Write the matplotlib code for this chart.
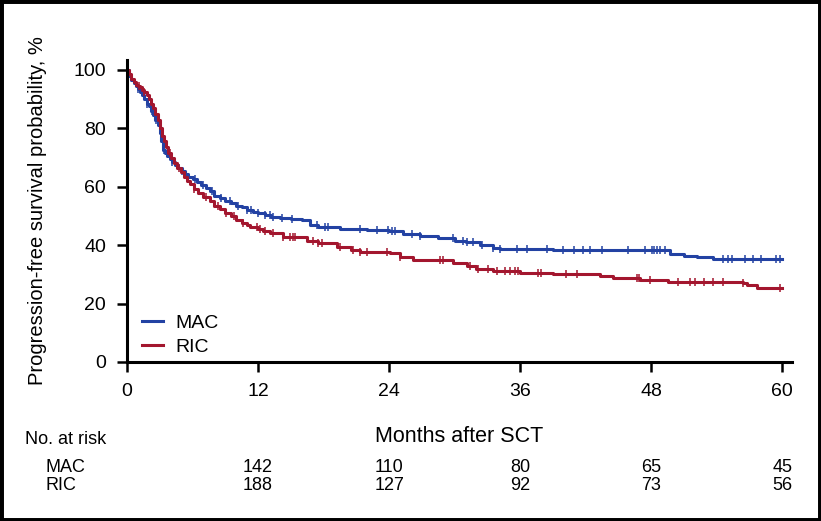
import numpy as np
import matplotlib
matplotlib.use("Agg")
import matplotlib.pyplot as plt
import matplotlib.transforms as mtransforms
from matplotlib.patches import Rectangle

plt.rcParams['font.family'] = ['Liberation Sans', 'DejaVu Sans']

# Kaplan-Meier step points (months, % PFS)
mac_time = [0, 0.2, 0.4, 0.6, 0.8, 1.0, 1.2, 1.4, 1.6, 1.8, 2.0, 2.2, 2.4, 2.6,
            2.8, 3.0, 3.15, 3.3, 3.5, 3.7, 3.9, 4.1, 4.4, 4.7, 5.0, 5.3, 5.6,
            6.0, 6.4, 6.8, 7.2, 7.6, 8.0, 8.5, 9.0, 9.5, 10.0, 10.5, 11.0,
            11.5, 12.0, 12.6, 13.2, 14.0, 15.0, 16.0, 16.8, 17.5, 19.5,
            22.0, 24.0, 25.3, 26.8, 28.5, 30.0, 31.0, 32.3, 33.5, 34.2, 39.0,
            45.0, 49.7, 51.0, 52.2, 53.7]
mac_surv = [100, 98, 96.5, 95.5, 94.5, 93.5, 92.5, 91.5, 90, 88.5, 87.5, 86,
            84.5, 83, 81, 78.5, 75.5, 72.5, 71.5, 70.5, 69.5, 68.5, 67.5, 66.5,
            65.5, 64.5, 63.5, 62.5, 61.5, 60.5, 59.5, 58.5, 57, 56, 55, 54.5,
            53.5, 53, 52, 51.5, 51, 50.5, 49.8, 49.3, 49, 48.6, 47, 46.3, 45.5,
            45.2, 45, 43.8, 43.3, 42.5, 41.5, 41, 40, 39.2, 38.8, 38.5,
            38.2, 37, 36.2, 35.8, 35.2]
ric_time = [0, 0.2, 0.4, 0.6, 0.8, 1.0, 1.2, 1.4, 1.6, 1.8, 2.0, 2.2, 2.4, 2.6,
            2.8, 3.0, 3.2, 3.4, 3.6, 3.8, 4.0, 4.3, 4.6, 4.9, 5.2, 5.5, 5.8,
            6.1, 6.5, 7.0, 7.6, 8.0, 8.5, 9.0, 9.5, 10.0, 10.5, 11.0, 11.3,
            12.0, 12.5, 13.1, 13.5, 14.3, 16.5, 17.5, 19.2, 20.5,
            21.3, 24.1, 25.0, 26.2, 29.9, 31.1, 32.0, 33.5, 36.0, 39.0, 43.3,
            44.5, 47.0, 49.5, 56.4, 56.8, 57.7]
ric_surv = [100, 98.5, 97, 96, 95, 94.5, 94, 93, 92.5, 91.5, 90, 88.5, 87, 85,
            83, 80, 77.5, 75.5, 73.5, 71.5, 70, 68, 66.5, 65, 63.5, 62, 60.8,
            59.3, 58, 56.5, 55, 53.5, 52.3, 51, 50, 48.7, 47.7, 46.9, 46.3,
            45.5, 45, 44.2, 44, 42.8, 41.5, 40.8, 39.5, 38.5,
            37.7, 37.3, 36, 35, 34, 33, 32, 31, 30.5, 30, 29.3,
            28.6, 28.2, 27.4, 27, 26.2, 25.3]

# censoring times (months)
mac_cens = [1.0, 1.8, 2.3, 2.7, 3.4, 4.1, 5.0, 5.6, 6.2, 7.0, 7.8, 8.6, 9.4,
            10.2, 11.0, 11.4, 12.0, 12.6, 13.1, 13.4, 14.2, 15.1, 17.4, 18.1,
            18.4, 21.3, 22.9, 23.9, 24.3, 24.5, 26.1, 26.8, 29.9, 30.8, 31.1,
            31.7, 32.5, 33.5, 34.2, 35.7, 36.6, 38.5, 39.9, 40.9, 41.8, 42.4,
            43.5, 45.9, 47.4, 48.1, 48.3, 48.5, 48.8, 49.3, 54.6, 55.0, 55.4,
            56.6, 57.3, 58.1, 59.4, 59.8]
ric_cens = [1.1, 1.6, 3.9, 4.8, 6.1, 7.2, 8.3, 9.1, 9.8, 10.6, 11.9, 12.2,
            12.6, 13.4, 14.3, 14.9, 15.2, 15.4, 17.0, 17.5, 17.9, 19.5, 20.7,
            21.3, 22.0, 23.8, 25.0, 28.7, 28.9, 31.4, 32.1, 33.1, 33.9, 34.6,
            35.1, 35.5, 35.8, 37.6, 37.9, 40.2, 41.2, 46.7, 46.9, 47.9, 50.5,
            51.6, 52.0, 52.8, 53.7, 54.6, 56.4, 59.8]

groups = ["MAC", "RIC"]
colors = ["#2342a3", "#a3162e"]
end_time = 60

xticks = [0, 12, 24, 36, 48, 60]
yticks = [0, 20, 40, 60, 80, 100]
risk_times = [12, 24, 36, 48, 60]
mac_risk = [142, 110, 80, 65, 45]
ric_risk = [188, 127, 92, 73, 56]


def km_value(times, surv, t):
    idx = np.searchsorted(times, t, side="right") - 1
    return np.asarray(surv)[idx]


fig = plt.figure(figsize=(8.21, 5.21), dpi=100)
ax = fig.add_axes([127 / 821, 1 - 362 / 521, 665 / 821, 302 / 521])

series = [(mac_time, mac_surv, mac_cens), (ric_time, ric_surv, ric_cens)]
for name, color, (t, s, c) in zip(groups, colors, series):
    tt = list(t) + [end_time]
    ss = list(s) + [s[-1]]
    ax.step(tt, ss, where="post", color=color, lw=2.2, label=name)
    ax.plot(c, km_value(t, s, c), ls="none", marker="|", color=color,
            ms=5.5, mew=1.1)

ax.set_xlim(0, 60.9)
ax.set_ylim(0, 103.4)
ax.set_xticks(xticks)
ax.set_yticks(yticks)
for side in ["top", "right"]:
    ax.spines[side].set_visible(False)
for side in ["left", "bottom"]:
    ax.spines[side].set_linewidth(2.2)
ax.tick_params(direction="out", length=7, width=1.8, labelsize=14, pad=8)

ax.set_xlabel("Months after SCT", fontsize=15.5, va="center")
ax.xaxis.set_label_coords(0.5, -0.248)
ax.set_ylabel("Progression-free survival probability, %", fontsize=14.5,
              va="center")
ax.yaxis.set_label_coords(-0.134, 0.5)

ax.legend(loc="lower left", bbox_to_anchor=(0.0226, 0.02), frameon=False,
          fontsize=14, handlelength=1.1, handletextpad=0.6, labelspacing=0.35,
          borderpad=0, borderaxespad=0)

# number at risk table
trans = mtransforms.blended_transform_factory(ax.transData, fig.transFigure)
fig.text(25 / 821, 1 - 439 / 521, "No. at risk", fontsize=13, va="center")
for name, counts, ypix in [("MAC", mac_risk, 467), ("RIC", ric_risk, 485)]:
    fig.text(45 / 821, 1 - ypix / 521, name, fontsize=13, va="center")
    for t, n in zip(risk_times, counts):
        ax.text(t, 1 - ypix / 521, str(n), transform=trans, fontsize=13,
                ha="center", va="center")

fig.patches.append(Rectangle((0, 0), 1, 1, transform=fig.transFigure,
                             fill=False, ec="black", lw=5))

fig.savefig("out.png", dpi=100)
